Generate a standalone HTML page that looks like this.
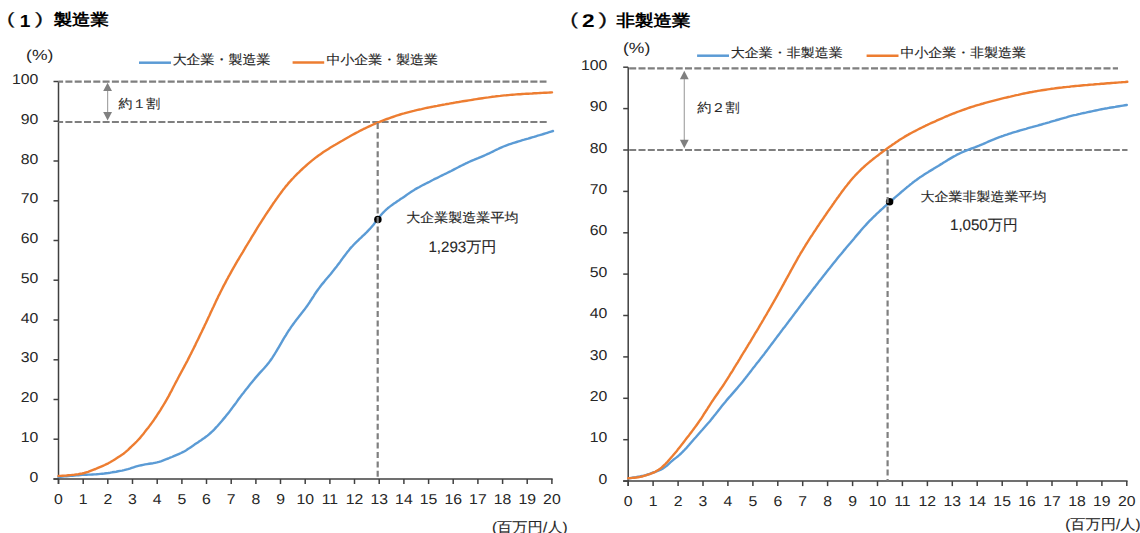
<!DOCTYPE html>
<html><head><meta charset="utf-8"><style>
html,body{margin:0;padding:0;background:#fff;width:1140px;height:533px;overflow:hidden}
svg{display:block}
text.n{stroke:#262626;stroke-width:0.12px}
</style></head><body>
<svg width="1140" height="533" viewBox="0 0 1140 533" text-rendering="geometricPrecision">
<text class="n" transform="translate(7.06,24.17) scale(1.3649,1)" font-size="16.34" font-weight="normal" fill="#111" font-family="Liberation Sans, sans-serif">(</text>
<text transform="translate(19.85,26.60) scale(1.0920,1)" font-size="17.54" font-weight="bold" fill="#000" font-family="Liberation Sans, sans-serif">1</text>
<text class="n" transform="translate(35.06,24.17) scale(1.4825,1)" font-size="16.34" font-weight="normal" fill="#111" font-family="Liberation Sans, sans-serif">)</text>
<text transform="translate(53.70,25.34) scale(1.1385,1)" font-size="16.12" font-weight="bold" fill="#000" font-family="Liberation Sans, sans-serif">製造業</text>
<text class="n" transform="translate(570.29,24.71) scale(1.3723,1)" font-size="17.10" font-weight="normal" fill="#111" font-family="Liberation Sans, sans-serif">(</text>
<text transform="translate(582.02,27.10) scale(1.2292,1)" font-size="18.43" font-weight="bold" fill="#000" font-family="Liberation Sans, sans-serif">2</text>
<text class="n" transform="translate(598.44,24.71) scale(1.5298,1)" font-size="17.10" font-weight="normal" fill="#111" font-family="Liberation Sans, sans-serif">)</text>
<text transform="translate(616.50,26.03) scale(1.1413,1)" font-size="16.22" font-weight="bold" fill="#000" font-family="Liberation Sans, sans-serif">非製造業</text>
<text transform="translate(26.05,59.63) scale(1.2003,1)" font-size="14.62" font-weight="normal" fill="#262626" font-family="Liberation Sans, sans-serif">(%)</text>
<text transform="translate(622.95,52.56) scale(1.1744,1)" font-size="14.95" font-weight="normal" fill="#262626" font-family="Liberation Sans, sans-serif">(%)</text>
<text class="n" transform="translate(172.64,64.22) scale(1.0598,1)" font-size="13.19" font-weight="normal" fill="#262626" font-family="Liberation Sans, sans-serif">大企業・製造業</text>
<text class="n" transform="translate(326.46,64.32) scale(1.0778,1)" font-size="12.95" font-weight="normal" fill="#262626" font-family="Liberation Sans, sans-serif">中小企業・製造業</text>
<text class="n" transform="translate(730.84,57.17) scale(1.0963,1)" font-size="12.77" font-weight="normal" fill="#262626" font-family="Liberation Sans, sans-serif">大企業・非製造業</text>
<text class="n" transform="translate(900.46,57.02) scale(1.0782,1)" font-size="12.95" font-weight="normal" fill="#262626" font-family="Liberation Sans, sans-serif">中小企業・非製造業</text>
<text class="n" transform="translate(118.56,107.81) scale(1.0893,1)" font-size="12.78" font-weight="normal" fill="#262626" font-family="Liberation Sans, sans-serif">約１割</text>
<text class="n" transform="translate(697.26,112.08) scale(1.0851,1)" font-size="12.99" font-weight="normal" fill="#262626" font-family="Liberation Sans, sans-serif">約２割</text>
<text class="n" transform="translate(406.24,221.88) scale(1.0586,1)" font-size="13.26" font-weight="normal" fill="#262626" font-family="Liberation Sans, sans-serif">大企業製造業平均</text>
<text class="n" transform="translate(428.39,251.55) scale(1.0000,1)" font-size="15.13" font-weight="normal" fill="#262626" font-family="Liberation Sans, sans-serif">1,293万円</text>
<text class="n" transform="translate(920.54,201.02) scale(1.0806,1)" font-size="12.95" font-weight="normal" fill="#262626" font-family="Liberation Sans, sans-serif">大企業非製造業平均</text>
<text class="n" transform="translate(949.99,229.63) scale(1.0000,1)" font-size="15.10" font-weight="normal" fill="#262626" font-family="Liberation Sans, sans-serif">1,050万円</text>
<text class="n" transform="translate(491.98,531.52) scale(1.0768,1)" font-size="14.20" font-weight="normal" fill="#262626" font-family="Liberation Sans, sans-serif">(百万円/人)</text>
<text class="n" transform="translate(1065.29,528.52) scale(1.0724,1)" font-size="14.20" font-weight="normal" fill="#262626" font-family="Liberation Sans, sans-serif">(百万円/人)</text>
<line x1="139" y1="62.7" x2="171" y2="62.7" stroke="#5b9bd5" stroke-width="2.5"/>
<line x1="292.6" y1="62.5" x2="324.2" y2="62.5" stroke="#ed7d31" stroke-width="2.5"/>
<line x1="697.1" y1="55.7" x2="729" y2="55.7" stroke="#5b9bd5" stroke-width="2.5"/>
<line x1="866.6" y1="55.8" x2="898.5" y2="55.8" stroke="#ed7d31" stroke-width="2.5"/>
<line x1="58.5" y1="81.5" x2="58.5" y2="484.0" stroke="#404040" stroke-width="1.5"/>
<line x1="53.5" y1="479.0" x2="552.6500000000001" y2="479.0" stroke="#404040" stroke-width="1.5"/>
<line x1="53.5" y1="479.0" x2="58.5" y2="479.0" stroke="#404040" stroke-width="1.5"/>
<text transform="translate(38.30,481.60) scale(1.1,1)" text-anchor="end" font-size="14.37" fill="#262626" font-family="Liberation Sans, sans-serif">0</text>
<line x1="53.5" y1="439.2" x2="58.5" y2="439.2" stroke="#404040" stroke-width="1.5"/>
<text transform="translate(38.30,441.85) scale(1.1,1)" text-anchor="end" font-size="14.37" fill="#262626" font-family="Liberation Sans, sans-serif">10</text>
<line x1="53.5" y1="399.5" x2="58.5" y2="399.5" stroke="#404040" stroke-width="1.5"/>
<text transform="translate(38.30,402.10) scale(1.1,1)" text-anchor="end" font-size="14.37" fill="#262626" font-family="Liberation Sans, sans-serif">20</text>
<line x1="53.5" y1="359.8" x2="58.5" y2="359.8" stroke="#404040" stroke-width="1.5"/>
<text transform="translate(38.30,362.35) scale(1.1,1)" text-anchor="end" font-size="14.37" fill="#262626" font-family="Liberation Sans, sans-serif">30</text>
<line x1="53.5" y1="320.0" x2="58.5" y2="320.0" stroke="#404040" stroke-width="1.5"/>
<text transform="translate(38.30,322.60) scale(1.1,1)" text-anchor="end" font-size="14.37" fill="#262626" font-family="Liberation Sans, sans-serif">40</text>
<line x1="53.5" y1="280.2" x2="58.5" y2="280.2" stroke="#404040" stroke-width="1.5"/>
<text transform="translate(38.30,282.85) scale(1.1,1)" text-anchor="end" font-size="14.37" fill="#262626" font-family="Liberation Sans, sans-serif">50</text>
<line x1="53.5" y1="240.5" x2="58.5" y2="240.5" stroke="#404040" stroke-width="1.5"/>
<text transform="translate(38.30,243.10) scale(1.1,1)" text-anchor="end" font-size="14.37" fill="#262626" font-family="Liberation Sans, sans-serif">60</text>
<line x1="53.5" y1="200.8" x2="58.5" y2="200.8" stroke="#404040" stroke-width="1.5"/>
<text transform="translate(38.30,203.35) scale(1.1,1)" text-anchor="end" font-size="14.37" fill="#262626" font-family="Liberation Sans, sans-serif">70</text>
<line x1="53.5" y1="161.0" x2="58.5" y2="161.0" stroke="#404040" stroke-width="1.5"/>
<text transform="translate(38.30,163.60) scale(1.1,1)" text-anchor="end" font-size="14.37" fill="#262626" font-family="Liberation Sans, sans-serif">80</text>
<line x1="53.5" y1="121.2" x2="58.5" y2="121.2" stroke="#404040" stroke-width="1.5"/>
<text transform="translate(38.30,123.85) scale(1.1,1)" text-anchor="end" font-size="14.37" fill="#262626" font-family="Liberation Sans, sans-serif">90</text>
<line x1="53.5" y1="81.5" x2="58.5" y2="81.5" stroke="#404040" stroke-width="1.5"/>
<text transform="translate(38.30,84.10) scale(1.1,1)" text-anchor="end" font-size="14.37" fill="#262626" font-family="Liberation Sans, sans-serif">100</text>
<line x1="58.5" y1="479.0" x2="58.5" y2="484.0" stroke="#404040" stroke-width="1.5"/>
<text transform="translate(58.50,503.90) scale(1.1,1)" text-anchor="middle" font-size="14.37" fill="#262626" font-family="Liberation Sans, sans-serif">0</text>
<line x1="83.2" y1="479.0" x2="83.2" y2="484.0" stroke="#404040" stroke-width="1.5"/>
<text transform="translate(83.17,503.90) scale(1.1,1)" text-anchor="middle" font-size="14.37" fill="#262626" font-family="Liberation Sans, sans-serif">1</text>
<line x1="107.8" y1="479.0" x2="107.8" y2="484.0" stroke="#404040" stroke-width="1.5"/>
<text transform="translate(107.84,503.90) scale(1.1,1)" text-anchor="middle" font-size="14.37" fill="#262626" font-family="Liberation Sans, sans-serif">2</text>
<line x1="132.5" y1="479.0" x2="132.5" y2="484.0" stroke="#404040" stroke-width="1.5"/>
<text transform="translate(132.51,503.90) scale(1.1,1)" text-anchor="middle" font-size="14.37" fill="#262626" font-family="Liberation Sans, sans-serif">3</text>
<line x1="157.2" y1="479.0" x2="157.2" y2="484.0" stroke="#404040" stroke-width="1.5"/>
<text transform="translate(157.18,503.90) scale(1.1,1)" text-anchor="middle" font-size="14.37" fill="#262626" font-family="Liberation Sans, sans-serif">4</text>
<line x1="181.9" y1="479.0" x2="181.9" y2="484.0" stroke="#404040" stroke-width="1.5"/>
<text transform="translate(181.85,503.90) scale(1.1,1)" text-anchor="middle" font-size="14.37" fill="#262626" font-family="Liberation Sans, sans-serif">5</text>
<line x1="206.5" y1="479.0" x2="206.5" y2="484.0" stroke="#404040" stroke-width="1.5"/>
<text transform="translate(206.52,503.90) scale(1.1,1)" text-anchor="middle" font-size="14.37" fill="#262626" font-family="Liberation Sans, sans-serif">6</text>
<line x1="231.2" y1="479.0" x2="231.2" y2="484.0" stroke="#404040" stroke-width="1.5"/>
<text transform="translate(231.19,503.90) scale(1.1,1)" text-anchor="middle" font-size="14.37" fill="#262626" font-family="Liberation Sans, sans-serif">7</text>
<line x1="255.9" y1="479.0" x2="255.9" y2="484.0" stroke="#404040" stroke-width="1.5"/>
<text transform="translate(255.86,503.90) scale(1.1,1)" text-anchor="middle" font-size="14.37" fill="#262626" font-family="Liberation Sans, sans-serif">8</text>
<line x1="280.5" y1="479.0" x2="280.5" y2="484.0" stroke="#404040" stroke-width="1.5"/>
<text transform="translate(280.53,503.90) scale(1.1,1)" text-anchor="middle" font-size="14.37" fill="#262626" font-family="Liberation Sans, sans-serif">9</text>
<line x1="305.2" y1="479.0" x2="305.2" y2="484.0" stroke="#404040" stroke-width="1.5"/>
<text transform="translate(305.20,503.90) scale(1.1,1)" text-anchor="middle" font-size="14.37" fill="#262626" font-family="Liberation Sans, sans-serif">10</text>
<line x1="329.9" y1="479.0" x2="329.9" y2="484.0" stroke="#404040" stroke-width="1.5"/>
<text transform="translate(329.87,503.90) scale(1.1,1)" text-anchor="middle" font-size="14.37" fill="#262626" font-family="Liberation Sans, sans-serif">11</text>
<line x1="354.5" y1="479.0" x2="354.5" y2="484.0" stroke="#404040" stroke-width="1.5"/>
<text transform="translate(354.54,503.90) scale(1.1,1)" text-anchor="middle" font-size="14.37" fill="#262626" font-family="Liberation Sans, sans-serif">12</text>
<line x1="379.2" y1="479.0" x2="379.2" y2="484.0" stroke="#404040" stroke-width="1.5"/>
<text transform="translate(379.21,503.90) scale(1.1,1)" text-anchor="middle" font-size="14.37" fill="#262626" font-family="Liberation Sans, sans-serif">13</text>
<line x1="403.9" y1="479.0" x2="403.9" y2="484.0" stroke="#404040" stroke-width="1.5"/>
<text transform="translate(403.88,503.90) scale(1.1,1)" text-anchor="middle" font-size="14.37" fill="#262626" font-family="Liberation Sans, sans-serif">14</text>
<line x1="428.6" y1="479.0" x2="428.6" y2="484.0" stroke="#404040" stroke-width="1.5"/>
<text transform="translate(428.55,503.90) scale(1.1,1)" text-anchor="middle" font-size="14.37" fill="#262626" font-family="Liberation Sans, sans-serif">15</text>
<line x1="453.2" y1="479.0" x2="453.2" y2="484.0" stroke="#404040" stroke-width="1.5"/>
<text transform="translate(453.22,503.90) scale(1.1,1)" text-anchor="middle" font-size="14.37" fill="#262626" font-family="Liberation Sans, sans-serif">16</text>
<line x1="477.9" y1="479.0" x2="477.9" y2="484.0" stroke="#404040" stroke-width="1.5"/>
<text transform="translate(477.89,503.90) scale(1.1,1)" text-anchor="middle" font-size="14.37" fill="#262626" font-family="Liberation Sans, sans-serif">17</text>
<line x1="502.6" y1="479.0" x2="502.6" y2="484.0" stroke="#404040" stroke-width="1.5"/>
<text transform="translate(502.56,503.90) scale(1.1,1)" text-anchor="middle" font-size="14.37" fill="#262626" font-family="Liberation Sans, sans-serif">18</text>
<line x1="527.2" y1="479.0" x2="527.2" y2="484.0" stroke="#404040" stroke-width="1.5"/>
<text transform="translate(527.23,503.90) scale(1.1,1)" text-anchor="middle" font-size="14.37" fill="#262626" font-family="Liberation Sans, sans-serif">19</text>
<line x1="551.9" y1="479.0" x2="551.9" y2="484.0" stroke="#404040" stroke-width="1.5"/>
<text transform="translate(551.90,503.90) scale(1.1,1)" text-anchor="middle" font-size="14.37" fill="#262626" font-family="Liberation Sans, sans-serif">20</text>
<line x1="58.5" y1="81.7" x2="546.5" y2="81.7" stroke="#7f7f7f" stroke-width="2.2" stroke-dasharray="7 2.3" stroke-dashoffset="2.4"/>
<line x1="58.5" y1="122.0" x2="547" y2="122.0" stroke="#7f7f7f" stroke-width="2.2" stroke-dasharray="7 2.3" stroke-dashoffset="2.4"/>
<line x1="107.6" y1="89.7" x2="107.6" y2="113.4" stroke="#a6a6a6" stroke-width="1.2"/>
<polygon points="107.6,82.7 103.19999999999999,91.10000000000001 112.0,91.10000000000001" fill="#808080"/>
<polygon points="107.6,120.4 103.19999999999999,112.0 112.0,112.0" fill="#808080"/>
<polyline points="58.5,477.0 60.5,476.8 62.5,476.6 64.5,476.4 66.5,476.3 68.5,476.1 70.4,475.9 72.4,475.7 74.4,475.5 76.4,475.3 78.4,475.2 80.4,475.0 82.4,474.8 84.4,474.7 86.4,474.7 88.4,474.6 90.4,474.6 92.4,474.5 94.4,474.4 96.4,474.3 98.4,474.1 100.4,473.9 102.3,473.7 104.3,473.5 106.3,473.2 108.3,473.0 110.3,472.7 112.2,472.3 114.2,472.0 116.2,471.7 118.2,471.3 120.1,470.9 122.1,470.6 124.0,470.2 126.0,469.7 127.9,469.2 129.8,468.6 131.7,467.9 133.6,467.3 135.5,466.7 137.4,466.1 139.3,465.6 141.3,465.2 143.2,464.8 145.2,464.4 147.2,464.1 149.1,463.8 151.1,463.5 153.1,463.2 155.0,462.8 157.0,462.4 158.9,461.9 160.8,461.3 162.7,460.6 164.5,459.9 166.4,459.2 168.3,458.5 170.1,457.7 171.9,457.0 173.8,456.2 175.6,455.4 177.4,454.6 179.2,453.8 181.0,453.0 182.8,452.1 184.6,451.2 186.3,450.2 187.9,449.1 189.6,448.0 191.2,446.9 192.9,445.8 194.5,444.6 196.1,443.5 197.8,442.4 199.4,441.3 201.1,440.2 202.7,439.1 204.3,438.0 205.9,436.8 207.5,435.6 209.0,434.3 210.5,433.0 212.0,431.7 213.4,430.3 214.8,428.9 216.1,427.4 217.5,426.0 218.8,424.5 220.1,423.0 221.4,421.5 222.7,419.9 224.0,418.4 225.3,416.9 226.5,415.3 227.8,413.7 229.0,412.2 230.2,410.6 231.4,409.0 232.6,407.4 233.8,405.8 235.0,404.2 236.2,402.6 237.4,400.9 238.5,399.3 239.7,397.7 240.9,396.1 242.1,394.5 243.4,393.0 244.6,391.4 245.8,389.8 247.1,388.3 248.3,386.7 249.6,385.1 250.8,383.6 252.1,382.0 253.3,380.5 254.6,378.9 255.9,377.4 257.2,375.9 258.5,374.4 259.8,372.9 261.2,371.4 262.5,370.0 263.9,368.5 265.2,367.0 266.5,365.5 267.7,364.0 269.0,362.4 270.2,360.8 271.3,359.2 272.4,357.6 273.5,355.9 274.6,354.2 275.6,352.5 276.6,350.8 277.6,349.1 278.7,347.3 279.7,345.6 280.7,343.9 281.7,342.2 282.7,340.4 283.7,338.7 284.7,337.0 285.8,335.3 286.8,333.6 287.9,331.9 289.0,330.2 290.1,328.6 291.2,326.9 292.4,325.3 293.5,323.7 294.7,322.1 295.9,320.5 297.1,318.9 298.4,317.3 299.6,315.7 300.8,314.2 302.1,312.6 303.3,311.0 304.5,309.5 305.7,307.9 306.9,306.3 308.0,304.6 309.2,303.0 310.2,301.3 311.3,299.7 312.4,298.0 313.5,296.3 314.5,294.6 315.6,293.0 316.8,291.3 317.9,289.7 319.1,288.1 320.3,286.5 321.5,284.9 322.8,283.4 324.1,281.9 325.3,280.3 326.6,278.8 327.9,277.3 329.2,275.7 330.5,274.2 331.7,272.7 333.0,271.1 334.2,269.5 335.4,268.0 336.7,266.4 337.9,264.8 339.1,263.2 340.3,261.6 341.4,260.0 342.6,258.4 343.8,256.8 345.0,255.2 346.2,253.6 347.4,252.0 348.7,250.5 349.9,248.9 351.2,247.4 352.6,246.0 353.9,244.5 355.3,243.1 356.8,241.7 358.2,240.3 359.6,238.9 361.1,237.6 362.5,236.2 364.0,234.8 365.4,233.5 366.8,232.1 368.2,230.6 369.6,229.2 370.9,227.7 372.2,226.2 373.5,224.7 374.7,223.1 375.9,221.6 377.1,220.0 378.4,218.4 379.6,216.9 380.8,215.3 382.1,213.8 383.4,212.4 384.8,211.0 386.2,209.6 387.7,208.3 389.2,207.1 390.8,205.9 392.4,204.7 394.0,203.6 395.7,202.5 397.3,201.3 399.0,200.2 400.6,199.1 402.3,198.0 403.9,196.9 405.6,195.7 407.2,194.6 408.8,193.4 410.5,192.3 412.1,191.2 413.8,190.2 415.5,189.1 417.2,188.1 419.0,187.2 420.7,186.2 422.5,185.3 424.3,184.4 426.0,183.5 427.8,182.6 429.6,181.7 431.4,180.7 433.2,179.8 434.9,178.9 436.7,178.1 438.5,177.2 440.3,176.3 442.1,175.4 443.9,174.5 445.7,173.7 447.5,172.8 449.3,171.9 451.1,171.0 452.8,170.1 454.6,169.1 456.4,168.2 458.2,167.3 459.9,166.4 461.7,165.5 463.5,164.6 465.3,163.7 467.1,162.9 468.9,162.0 470.8,161.2 472.6,160.4 474.4,159.7 476.3,158.9 478.1,158.2 480.0,157.4 481.8,156.6 483.6,155.8 485.5,155.0 487.3,154.2 489.1,153.4 490.9,152.5 492.7,151.6 494.4,150.7 496.2,149.8 498.0,149.0 499.8,148.1 501.6,147.3 503.5,146.5 505.3,145.8 507.2,145.1 509.0,144.4 510.9,143.8 512.8,143.2 514.7,142.6 516.6,142.0 518.5,141.4 520.5,140.8 522.4,140.2 524.3,139.7 526.2,139.1 528.1,138.6 530.1,138.0 532.0,137.4 533.9,136.9 535.8,136.3 537.7,135.7 539.6,135.2 541.6,134.6 543.5,134.0 545.4,133.4 547.3,132.8 549.2,132.2 551.1,131.6 553.0,131.0" fill="none" stroke="#5b9bd5" stroke-width="2.4" stroke-linejoin="round" stroke-linecap="round"/>
<polyline points="58.5,476.0 60.5,475.9 62.5,475.7 64.5,475.6 66.5,475.5 68.5,475.3 70.5,475.1 72.5,474.9 74.4,474.7 76.4,474.4 78.4,474.2 80.4,473.8 82.3,473.5 84.3,473.0 86.2,472.4 88.1,471.8 89.9,471.1 91.8,470.4 93.7,469.7 95.6,469.0 97.4,468.2 99.2,467.4 101.1,466.6 102.9,465.8 104.7,465.0 106.5,464.1 108.3,463.3 110.1,462.3 111.8,461.3 113.5,460.3 115.2,459.2 116.9,458.1 118.5,457.0 120.2,455.9 121.9,454.8 123.5,453.7 125.1,452.4 126.6,451.1 128.1,449.8 129.5,448.4 131.0,447.0 132.4,445.6 133.8,444.3 135.3,442.9 136.7,441.5 138.1,440.0 139.4,438.6 140.7,437.1 142.0,435.5 143.3,434.0 144.5,432.4 145.7,430.8 146.9,429.3 148.2,427.7 149.4,426.1 150.6,424.5 151.8,422.9 153.0,421.3 154.1,419.6 155.2,418.0 156.4,416.3 157.4,414.7 158.5,413.0 159.6,411.3 160.7,409.6 161.7,407.9 162.8,406.2 163.8,404.5 164.8,402.8 165.8,401.1 166.8,399.4 167.8,397.6 168.8,395.9 169.7,394.1 170.6,392.3 171.6,390.6 172.5,388.8 173.4,387.0 174.3,385.3 175.2,383.5 176.2,381.7 177.1,380.0 178.0,378.2 178.9,376.5 179.9,374.7 180.8,373.0 181.8,371.2 182.7,369.5 183.7,367.7 184.6,365.9 185.5,364.2 186.5,362.4 187.4,360.7 188.3,358.9 189.2,357.1 190.1,355.3 191.0,353.6 191.9,351.8 192.8,350.0 193.7,348.2 194.6,346.4 195.5,344.6 196.3,342.8 197.2,341.0 198.1,339.2 199.0,337.4 199.8,335.6 200.7,333.8 201.6,332.0 202.4,330.2 203.3,328.4 204.2,326.6 205.0,324.8 205.9,323.0 206.7,321.2 207.6,319.4 208.4,317.5 209.3,315.7 210.1,313.9 210.9,312.1 211.8,310.3 212.6,308.5 213.5,306.7 214.3,304.9 215.2,303.0 216.0,301.2 216.9,299.4 217.8,297.6 218.6,295.8 219.5,294.1 220.4,292.3 221.3,290.5 222.2,288.7 223.1,286.9 224.0,285.1 225.0,283.4 225.9,281.6 226.8,279.8 227.8,278.1 228.7,276.3 229.7,274.6 230.7,272.8 231.6,271.1 232.6,269.3 233.6,267.6 234.6,265.9 235.6,264.1 236.6,262.4 237.6,260.7 238.7,259.0 239.7,257.2 240.7,255.5 241.7,253.8 242.8,252.1 243.8,250.4 244.8,248.7 245.8,246.9 246.9,245.2 247.9,243.5 248.9,241.8 250.0,240.1 251.0,238.4 252.0,236.7 253.1,235.0 254.1,233.3 255.2,231.5 256.2,229.8 257.2,228.1 258.3,226.4 259.4,224.7 260.4,223.1 261.5,221.4 262.6,219.7 263.7,218.0 264.7,216.3 265.8,214.6 266.9,213.0 268.0,211.3 269.2,209.7 270.3,208.0 271.4,206.3 272.5,204.7 273.6,203.0 274.8,201.4 275.9,199.8 277.1,198.1 278.2,196.5 279.4,194.9 280.6,193.3 281.7,191.7 282.9,190.1 284.2,188.5 285.4,186.9 286.7,185.4 287.9,183.9 289.2,182.4 290.6,180.9 291.9,179.4 293.3,178.0 294.6,176.5 296.0,175.1 297.4,173.7 298.9,172.3 300.3,170.9 301.8,169.5 303.2,168.2 304.7,166.8 306.2,165.5 307.7,164.2 309.2,162.9 310.7,161.6 312.2,160.4 313.8,159.1 315.3,157.9 316.9,156.7 318.5,155.5 320.1,154.4 321.8,153.2 323.4,152.1 325.1,151.0 326.7,150.0 328.4,148.9 330.1,147.8 331.8,146.8 333.5,145.8 335.3,144.8 337.0,143.8 338.7,142.7 340.4,141.7 342.2,140.7 343.9,139.7 345.6,138.7 347.4,137.7 349.1,136.8 350.8,135.8 352.6,134.8 354.3,133.9 356.1,132.9 357.9,132.0 359.6,131.0 361.4,130.1 363.2,129.2 365.0,128.4 366.8,127.5 368.6,126.6 370.4,125.8 372.2,125.0 374.0,124.2 375.9,123.4 377.7,122.6 379.6,121.9 381.4,121.1 383.3,120.4 385.1,119.7 387.0,119.0 388.9,118.3 390.8,117.6 392.6,117.0 394.5,116.3 396.4,115.7 398.3,115.1 400.2,114.5 402.1,113.9 404.1,113.4 406.0,112.8 407.9,112.3 409.8,111.8 411.8,111.3 413.7,110.9 415.7,110.4 417.6,109.9 419.5,109.5 421.5,109.1 423.5,108.6 425.4,108.2 427.4,107.8 429.3,107.4 431.3,107.0 433.2,106.6 435.2,106.2 437.2,105.9 439.1,105.5 441.1,105.1 443.1,104.7 445.0,104.4 447.0,104.0 449.0,103.7 450.9,103.3 452.9,103.0 454.9,102.6 456.8,102.3 458.8,102.0 460.8,101.6 462.8,101.3 464.7,101.0 466.7,100.7 468.7,100.4 470.7,100.1 472.6,99.8 474.6,99.4 476.6,99.1 478.6,98.8 480.5,98.5 482.5,98.2 484.5,97.9 486.5,97.6 488.4,97.4 490.4,97.1 492.4,96.8 494.4,96.6 496.4,96.3 498.3,96.1 500.3,95.9 502.3,95.6 504.3,95.4 506.3,95.3 508.3,95.1 510.3,94.9 512.3,94.7 514.3,94.6 516.2,94.4 518.2,94.3 520.2,94.2 522.2,94.0 524.2,93.9 526.2,93.8 528.2,93.7 530.2,93.6 532.2,93.5 534.2,93.3 536.2,93.2 538.2,93.1 540.1,93.0 542.1,92.9 544.1,92.8 546.1,92.7 548.1,92.6 550.0,92.5 552.0,92.4" fill="none" stroke="#ed7d31" stroke-width="2.4" stroke-linejoin="round" stroke-linecap="round"/>
<circle cx="377.9" cy="219.4" r="3.75" fill="#000"/>
<line x1="377.7" y1="123" x2="377.7" y2="479.0" stroke="#7f7f7f" stroke-width="2.2" stroke-dasharray="6 3.4"/>
<line x1="628.2" y1="67.19999999999999" x2="628.2" y2="486.1" stroke="#404040" stroke-width="1.5"/>
<line x1="623.2" y1="481.1" x2="1127.5500000000002" y2="481.1" stroke="#404040" stroke-width="1.5"/>
<line x1="623.2" y1="481.1" x2="628.2" y2="481.1" stroke="#404040" stroke-width="1.5"/>
<text transform="translate(607.40,483.70) scale(1.1,1)" text-anchor="end" font-size="14.37" fill="#262626" font-family="Liberation Sans, sans-serif">0</text>
<line x1="623.2" y1="439.7" x2="628.2" y2="439.7" stroke="#404040" stroke-width="1.5"/>
<text transform="translate(607.40,442.31) scale(1.1,1)" text-anchor="end" font-size="14.37" fill="#262626" font-family="Liberation Sans, sans-serif">10</text>
<line x1="623.2" y1="398.3" x2="628.2" y2="398.3" stroke="#404040" stroke-width="1.5"/>
<text transform="translate(607.40,400.92) scale(1.1,1)" text-anchor="end" font-size="14.37" fill="#262626" font-family="Liberation Sans, sans-serif">20</text>
<line x1="623.2" y1="356.9" x2="628.2" y2="356.9" stroke="#404040" stroke-width="1.5"/>
<text transform="translate(607.40,359.53) scale(1.1,1)" text-anchor="end" font-size="14.37" fill="#262626" font-family="Liberation Sans, sans-serif">30</text>
<line x1="623.2" y1="315.5" x2="628.2" y2="315.5" stroke="#404040" stroke-width="1.5"/>
<text transform="translate(607.40,318.14) scale(1.1,1)" text-anchor="end" font-size="14.37" fill="#262626" font-family="Liberation Sans, sans-serif">40</text>
<line x1="623.2" y1="274.1" x2="628.2" y2="274.1" stroke="#404040" stroke-width="1.5"/>
<text transform="translate(607.40,276.75) scale(1.1,1)" text-anchor="end" font-size="14.37" fill="#262626" font-family="Liberation Sans, sans-serif">50</text>
<line x1="623.2" y1="232.8" x2="628.2" y2="232.8" stroke="#404040" stroke-width="1.5"/>
<text transform="translate(607.40,235.36) scale(1.1,1)" text-anchor="end" font-size="14.37" fill="#262626" font-family="Liberation Sans, sans-serif">60</text>
<line x1="623.2" y1="191.4" x2="628.2" y2="191.4" stroke="#404040" stroke-width="1.5"/>
<text transform="translate(607.40,193.97) scale(1.1,1)" text-anchor="end" font-size="14.37" fill="#262626" font-family="Liberation Sans, sans-serif">70</text>
<line x1="623.2" y1="150.0" x2="628.2" y2="150.0" stroke="#404040" stroke-width="1.5"/>
<text transform="translate(607.40,152.58) scale(1.1,1)" text-anchor="end" font-size="14.37" fill="#262626" font-family="Liberation Sans, sans-serif">80</text>
<line x1="623.2" y1="108.6" x2="628.2" y2="108.6" stroke="#404040" stroke-width="1.5"/>
<text transform="translate(607.40,111.19) scale(1.1,1)" text-anchor="end" font-size="14.37" fill="#262626" font-family="Liberation Sans, sans-serif">90</text>
<line x1="623.2" y1="67.2" x2="628.2" y2="67.2" stroke="#404040" stroke-width="1.5"/>
<text transform="translate(607.40,69.80) scale(1.1,1)" text-anchor="end" font-size="14.37" fill="#262626" font-family="Liberation Sans, sans-serif">100</text>
<line x1="628.2" y1="481.1" x2="628.2" y2="486.1" stroke="#404040" stroke-width="1.5"/>
<text transform="translate(628.20,506.10) scale(1.1,1)" text-anchor="middle" font-size="14.37" fill="#262626" font-family="Liberation Sans, sans-serif">0</text>
<line x1="653.1" y1="481.1" x2="653.1" y2="486.1" stroke="#404040" stroke-width="1.5"/>
<text transform="translate(653.13,506.10) scale(1.1,1)" text-anchor="middle" font-size="14.37" fill="#262626" font-family="Liberation Sans, sans-serif">1</text>
<line x1="678.1" y1="481.1" x2="678.1" y2="486.1" stroke="#404040" stroke-width="1.5"/>
<text transform="translate(678.06,506.10) scale(1.1,1)" text-anchor="middle" font-size="14.37" fill="#262626" font-family="Liberation Sans, sans-serif">2</text>
<line x1="703.0" y1="481.1" x2="703.0" y2="486.1" stroke="#404040" stroke-width="1.5"/>
<text transform="translate(702.99,506.10) scale(1.1,1)" text-anchor="middle" font-size="14.37" fill="#262626" font-family="Liberation Sans, sans-serif">3</text>
<line x1="727.9" y1="481.1" x2="727.9" y2="486.1" stroke="#404040" stroke-width="1.5"/>
<text transform="translate(727.92,506.10) scale(1.1,1)" text-anchor="middle" font-size="14.37" fill="#262626" font-family="Liberation Sans, sans-serif">4</text>
<line x1="752.9" y1="481.1" x2="752.9" y2="486.1" stroke="#404040" stroke-width="1.5"/>
<text transform="translate(752.85,506.10) scale(1.1,1)" text-anchor="middle" font-size="14.37" fill="#262626" font-family="Liberation Sans, sans-serif">5</text>
<line x1="777.8" y1="481.1" x2="777.8" y2="486.1" stroke="#404040" stroke-width="1.5"/>
<text transform="translate(777.78,506.10) scale(1.1,1)" text-anchor="middle" font-size="14.37" fill="#262626" font-family="Liberation Sans, sans-serif">6</text>
<line x1="802.7" y1="481.1" x2="802.7" y2="486.1" stroke="#404040" stroke-width="1.5"/>
<text transform="translate(802.71,506.10) scale(1.1,1)" text-anchor="middle" font-size="14.37" fill="#262626" font-family="Liberation Sans, sans-serif">7</text>
<line x1="827.6" y1="481.1" x2="827.6" y2="486.1" stroke="#404040" stroke-width="1.5"/>
<text transform="translate(827.64,506.10) scale(1.1,1)" text-anchor="middle" font-size="14.37" fill="#262626" font-family="Liberation Sans, sans-serif">8</text>
<line x1="852.6" y1="481.1" x2="852.6" y2="486.1" stroke="#404040" stroke-width="1.5"/>
<text transform="translate(852.57,506.10) scale(1.1,1)" text-anchor="middle" font-size="14.37" fill="#262626" font-family="Liberation Sans, sans-serif">9</text>
<line x1="877.5" y1="481.1" x2="877.5" y2="486.1" stroke="#404040" stroke-width="1.5"/>
<text transform="translate(877.50,506.10) scale(1.1,1)" text-anchor="middle" font-size="14.37" fill="#262626" font-family="Liberation Sans, sans-serif">10</text>
<line x1="902.4" y1="481.1" x2="902.4" y2="486.1" stroke="#404040" stroke-width="1.5"/>
<text transform="translate(902.43,506.10) scale(1.1,1)" text-anchor="middle" font-size="14.37" fill="#262626" font-family="Liberation Sans, sans-serif">11</text>
<line x1="927.4" y1="481.1" x2="927.4" y2="486.1" stroke="#404040" stroke-width="1.5"/>
<text transform="translate(927.36,506.10) scale(1.1,1)" text-anchor="middle" font-size="14.37" fill="#262626" font-family="Liberation Sans, sans-serif">12</text>
<line x1="952.3" y1="481.1" x2="952.3" y2="486.1" stroke="#404040" stroke-width="1.5"/>
<text transform="translate(952.29,506.10) scale(1.1,1)" text-anchor="middle" font-size="14.37" fill="#262626" font-family="Liberation Sans, sans-serif">13</text>
<line x1="977.2" y1="481.1" x2="977.2" y2="486.1" stroke="#404040" stroke-width="1.5"/>
<text transform="translate(977.22,506.10) scale(1.1,1)" text-anchor="middle" font-size="14.37" fill="#262626" font-family="Liberation Sans, sans-serif">14</text>
<line x1="1002.2" y1="481.1" x2="1002.2" y2="486.1" stroke="#404040" stroke-width="1.5"/>
<text transform="translate(1002.15,506.10) scale(1.1,1)" text-anchor="middle" font-size="14.37" fill="#262626" font-family="Liberation Sans, sans-serif">15</text>
<line x1="1027.1" y1="481.1" x2="1027.1" y2="486.1" stroke="#404040" stroke-width="1.5"/>
<text transform="translate(1027.08,506.10) scale(1.1,1)" text-anchor="middle" font-size="14.37" fill="#262626" font-family="Liberation Sans, sans-serif">16</text>
<line x1="1052.0" y1="481.1" x2="1052.0" y2="486.1" stroke="#404040" stroke-width="1.5"/>
<text transform="translate(1052.01,506.10) scale(1.1,1)" text-anchor="middle" font-size="14.37" fill="#262626" font-family="Liberation Sans, sans-serif">17</text>
<line x1="1076.9" y1="481.1" x2="1076.9" y2="486.1" stroke="#404040" stroke-width="1.5"/>
<text transform="translate(1076.94,506.10) scale(1.1,1)" text-anchor="middle" font-size="14.37" fill="#262626" font-family="Liberation Sans, sans-serif">18</text>
<line x1="1101.9" y1="481.1" x2="1101.9" y2="486.1" stroke="#404040" stroke-width="1.5"/>
<text transform="translate(1101.87,506.10) scale(1.1,1)" text-anchor="middle" font-size="14.37" fill="#262626" font-family="Liberation Sans, sans-serif">19</text>
<line x1="1126.8" y1="481.1" x2="1126.8" y2="486.1" stroke="#404040" stroke-width="1.5"/>
<text transform="translate(1126.80,506.10) scale(1.1,1)" text-anchor="middle" font-size="14.37" fill="#262626" font-family="Liberation Sans, sans-serif">20</text>
<line x1="628.2" y1="68.3" x2="1118" y2="68.3" stroke="#7f7f7f" stroke-width="2.2" stroke-dasharray="7 2.3" stroke-dashoffset="-1.0"/>
<line x1="628.2" y1="150.0" x2="1127.5" y2="150.0" stroke="#7f7f7f" stroke-width="2.2" stroke-dasharray="7 2.3" stroke-dashoffset="-1.0"/>
<line x1="684.3" y1="77.8" x2="684.3" y2="141.2" stroke="#a6a6a6" stroke-width="1.2"/>
<polygon points="684.3,70.8 679.9,79.2 688.6999999999999,79.2" fill="#808080"/>
<polygon points="684.3,148.2 679.9,139.79999999999998 688.6999999999999,139.79999999999998" fill="#808080"/>
<polyline points="628.2,478.5 630.2,478.1 632.1,477.8 634.1,477.4 636.1,477.1 638.0,476.7 640.0,476.4 642.0,476.0 643.9,475.6 645.8,475.1 647.8,474.5 649.7,473.9 651.5,473.2 653.4,472.5 655.3,471.9 657.2,471.2 659.0,470.4 660.8,469.6 662.6,468.7 664.3,467.6 665.9,466.4 667.4,465.2 668.8,463.8 670.3,462.4 671.8,461.1 673.3,459.8 674.9,458.6 676.5,457.4 678.0,456.2 679.5,454.9 681.0,453.5 682.4,452.1 683.8,450.7 685.2,449.2 686.6,447.8 687.9,446.3 689.2,444.8 690.5,443.2 691.8,441.7 693.1,440.2 694.4,438.7 695.8,437.2 697.1,435.7 698.4,434.2 699.7,432.7 701.0,431.2 702.4,429.7 703.7,428.2 705.0,426.7 706.3,425.2 707.6,423.7 709.0,422.2 710.3,420.7 711.5,419.1 712.8,417.6 714.0,416.0 715.3,414.5 716.5,412.9 717.8,411.3 719.0,409.7 720.2,408.2 721.5,406.6 722.7,405.1 724.0,403.5 725.3,402.0 726.5,400.4 727.8,398.9 729.1,397.4 730.5,395.9 731.8,394.4 733.1,392.9 734.4,391.4 735.7,389.9 737.0,388.4 738.3,386.8 739.6,385.3 740.9,383.8 742.2,382.2 743.4,380.7 744.7,379.1 745.9,377.5 747.1,376.0 748.3,374.4 749.6,372.8 750.8,371.2 752.0,369.6 753.2,368.0 754.5,366.5 755.7,364.9 756.9,363.3 758.2,361.8 759.4,360.2 760.6,358.6 761.9,357.0 763.1,355.4 764.3,353.9 765.5,352.3 766.7,350.7 767.9,349.1 769.1,347.5 770.3,345.9 771.5,344.3 772.7,342.7 773.9,341.1 775.1,339.5 776.3,337.9 777.5,336.3 778.7,334.7 779.9,333.1 781.1,331.5 782.3,329.9 783.5,328.3 784.8,326.7 786.0,325.1 787.2,323.5 788.4,321.9 789.6,320.3 790.8,318.7 792.0,317.1 793.2,315.5 794.4,313.9 795.6,312.3 796.8,310.7 798.0,309.1 799.2,307.5 800.4,305.9 801.6,304.3 802.8,302.7 804.0,301.1 805.2,299.6 806.4,298.0 807.6,296.4 808.9,294.8 810.1,293.2 811.3,291.6 812.5,290.0 813.7,288.4 815.0,286.9 816.2,285.3 817.4,283.7 818.6,282.1 819.9,280.5 821.1,279.0 822.3,277.4 823.6,275.8 824.8,274.3 826.0,272.7 827.3,271.1 828.5,269.5 829.8,268.0 831.0,266.4 832.3,264.8 833.5,263.3 834.8,261.7 836.0,260.2 837.3,258.6 838.5,257.1 839.8,255.5 841.1,254.0 842.4,252.4 843.6,250.9 844.9,249.4 846.2,247.8 847.5,246.3 848.8,244.8 850.1,243.3 851.4,241.7 852.7,240.2 854.0,238.7 855.2,237.1 856.5,235.6 857.8,234.1 859.1,232.6 860.4,231.1 861.7,229.5 863.0,228.0 864.4,226.5 865.7,225.1 867.0,223.6 868.4,222.1 869.8,220.7 871.2,219.3 872.6,217.9 874.0,216.5 875.5,215.1 876.9,213.7 878.4,212.4 879.8,211.0 881.3,209.6 882.8,208.3 884.3,206.9 885.8,205.6 887.3,204.3 888.8,203.0 890.3,201.7 891.8,200.3 893.3,199.0 894.8,197.7 896.3,196.4 897.8,195.1 899.3,193.8 900.8,192.5 902.3,191.2 903.9,189.9 905.4,188.6 906.9,187.3 908.5,186.1 910.0,184.8 911.6,183.6 913.2,182.3 914.8,181.1 916.4,180.0 918.0,178.8 919.6,177.6 921.3,176.5 922.9,175.4 924.6,174.3 926.3,173.2 928.0,172.2 929.7,171.1 931.4,170.1 933.1,169.1 934.8,168.0 936.5,167.0 938.2,166.0 939.9,164.9 941.6,163.9 943.3,162.8 945.0,161.8 946.7,160.7 948.4,159.6 950.1,158.6 951.8,157.6 953.5,156.6 955.3,155.7 957.0,154.7 958.8,153.9 960.6,153.0 962.4,152.2 964.3,151.4 966.1,150.6 968.0,149.9 969.8,149.2 971.7,148.5 973.5,147.8 975.4,147.1 977.3,146.3 979.1,145.6 981.0,144.8 982.8,144.1 984.6,143.3 986.5,142.5 988.3,141.7 990.1,140.9 992.0,140.1 993.8,139.4 995.6,138.6 997.5,137.9 999.4,137.2 1001.2,136.5 1003.1,135.9 1005.0,135.2 1006.9,134.6 1008.8,133.9 1010.7,133.3 1012.6,132.7 1014.5,132.1 1016.4,131.6 1018.4,131.0 1020.3,130.4 1022.2,129.8 1024.1,129.3 1026.0,128.8 1028.0,128.2 1029.9,127.7 1031.8,127.2 1033.7,126.6 1035.7,126.1 1037.6,125.6 1039.5,125.0 1041.5,124.5 1043.4,123.9 1045.3,123.4 1047.2,122.8 1049.1,122.3 1051.1,121.7 1053.0,121.1 1054.9,120.6 1056.8,120.0 1058.7,119.5 1060.7,118.9 1062.6,118.3 1064.5,117.8 1066.4,117.3 1068.4,116.7 1070.3,116.2 1072.2,115.7 1074.2,115.2 1076.1,114.8 1078.0,114.3 1080.0,113.9 1081.9,113.4 1083.9,113.0 1085.8,112.6 1087.8,112.1 1089.8,111.7 1091.7,111.3 1093.7,110.9 1095.6,110.5 1097.6,110.1 1099.5,109.7 1101.5,109.3 1103.5,108.9 1105.4,108.5 1107.4,108.2 1109.3,107.8 1111.3,107.5 1113.3,107.2 1115.2,106.9 1117.2,106.5 1119.1,106.2 1121.1,105.9 1123.0,105.6 1124.9,105.3 1126.8,105.0" fill="none" stroke="#5b9bd5" stroke-width="2.4" stroke-linejoin="round" stroke-linecap="round"/>
<polyline points="628.2,478.3 630.2,478.1 632.2,477.9 634.2,477.7 636.2,477.5 638.1,477.3 640.1,476.9 642.0,476.5 643.9,475.9 645.9,475.3 647.8,474.7 649.7,474.1 651.5,473.4 653.4,472.6 655.2,471.8 656.9,470.8 658.6,469.8 660.2,468.6 661.8,467.4 663.3,466.0 664.7,464.7 666.1,463.2 667.5,461.8 668.8,460.3 670.1,458.8 671.4,457.3 672.7,455.8 674.0,454.2 675.3,452.7 676.6,451.2 677.8,449.6 679.1,448.0 680.3,446.5 681.5,444.9 682.8,443.3 684.0,441.7 685.2,440.1 686.4,438.5 687.6,437.0 688.9,435.4 690.1,433.8 691.3,432.2 692.5,430.6 693.7,429.0 694.9,427.4 696.1,425.8 697.2,424.2 698.4,422.5 699.5,420.9 700.7,419.2 701.8,417.6 702.9,415.9 703.9,414.2 705.0,412.5 706.1,410.8 707.2,409.2 708.2,407.5 709.3,405.8 710.4,404.1 711.5,402.4 712.6,400.8 713.7,399.1 714.8,397.5 716.0,395.8 717.1,394.2 718.3,392.5 719.4,390.9 720.5,389.3 721.7,387.6 722.8,386.0 723.9,384.3 725.0,382.6 726.1,380.9 727.1,379.3 728.2,377.6 729.3,375.9 730.3,374.2 731.4,372.5 732.5,370.8 733.5,369.1 734.5,367.4 735.6,365.7 736.6,364.0 737.7,362.3 738.7,360.6 739.8,358.9 740.8,357.1 741.8,355.4 742.9,353.7 743.9,352.0 745.0,350.3 746.0,348.6 747.1,346.9 748.1,345.2 749.1,343.5 750.2,341.8 751.2,340.1 752.2,338.4 753.3,336.6 754.3,334.9 755.3,333.2 756.4,331.5 757.4,329.8 758.4,328.1 759.4,326.3 760.4,324.6 761.5,322.9 762.5,321.2 763.5,319.5 764.5,317.7 765.5,316.0 766.5,314.3 767.5,312.5 768.5,310.8 769.5,309.1 770.5,307.4 771.5,305.6 772.5,303.9 773.5,302.2 774.5,300.4 775.5,298.7 776.5,296.9 777.5,295.2 778.4,293.4 779.4,291.7 780.4,289.9 781.3,288.2 782.3,286.4 783.3,284.7 784.2,282.9 785.2,281.2 786.1,279.4 787.1,277.7 788.1,275.9 789.0,274.2 790.0,272.4 790.9,270.6 791.9,268.9 792.9,267.1 793.8,265.4 794.8,263.6 795.8,261.9 796.8,260.2 797.7,258.4 798.7,256.7 799.7,255.0 800.7,253.2 801.8,251.5 802.8,249.8 803.8,248.1 804.9,246.4 805.9,244.7 807.0,243.0 808.0,241.3 809.1,239.6 810.2,237.9 811.3,236.2 812.4,234.6 813.5,232.9 814.6,231.2 815.7,229.6 816.8,227.9 817.9,226.2 819.0,224.6 820.1,222.9 821.2,221.3 822.4,219.6 823.5,218.0 824.6,216.3 825.8,214.7 826.9,213.0 828.0,211.4 829.2,209.7 830.3,208.1 831.5,206.5 832.6,204.8 833.8,203.2 834.9,201.5 836.1,199.9 837.2,198.3 838.4,196.7 839.6,195.0 840.8,193.4 841.9,191.8 843.1,190.2 844.3,188.6 845.5,187.0 846.8,185.5 848.0,183.9 849.3,182.4 850.5,180.8 851.8,179.3 853.1,177.8 854.5,176.3 855.8,174.8 857.2,173.4 858.6,172.0 860.0,170.6 861.4,169.2 862.8,167.8 864.3,166.5 865.8,165.2 867.3,163.9 868.8,162.6 870.4,161.3 871.9,160.1 873.5,158.8 875.0,157.6 876.6,156.4 878.2,155.2 879.8,153.9 881.4,152.7 883.0,151.6 884.6,150.4 886.2,149.2 887.8,148.0 889.5,146.8 891.1,145.7 892.7,144.5 894.4,143.4 896.0,142.3 897.7,141.2 899.3,140.1 901.0,139.0 902.7,138.0 904.4,136.9 906.1,135.9 907.9,134.9 909.6,133.9 911.3,133.0 913.1,132.0 914.9,131.1 916.6,130.2 918.4,129.3 920.2,128.4 922.0,127.5 923.8,126.6 925.6,125.7 927.4,124.9 929.2,124.0 931.0,123.2 932.8,122.4 934.7,121.6 936.5,120.7 938.3,119.9 940.1,119.1 942.0,118.3 943.8,117.5 945.6,116.7 947.5,116.0 949.3,115.2 951.2,114.4 953.0,113.7 954.9,113.0 956.8,112.2 958.6,111.5 960.5,110.8 962.4,110.1 964.2,109.5 966.1,108.8 968.0,108.1 969.9,107.5 971.8,106.9 973.7,106.3 975.6,105.7 977.5,105.1 979.5,104.6 981.4,104.0 983.3,103.5 985.2,102.9 987.2,102.4 989.1,101.9 991.0,101.4 993.0,100.9 994.9,100.4 996.8,99.9 998.8,99.4 1000.7,98.9 1002.6,98.4 1004.6,97.9 1006.5,97.5 1008.5,97.0 1010.4,96.6 1012.4,96.1 1014.3,95.7 1016.3,95.2 1018.2,94.8 1020.2,94.3 1022.1,93.9 1024.1,93.5 1026.0,93.1 1028.0,92.7 1030.0,92.3 1031.9,92.0 1033.9,91.6 1035.9,91.3 1037.8,90.9 1039.8,90.6 1041.8,90.3 1043.7,90.0 1045.7,89.7 1047.7,89.4 1049.7,89.1 1051.7,88.8 1053.6,88.6 1055.6,88.3 1057.6,88.0 1059.6,87.8 1061.6,87.6 1063.6,87.3 1065.5,87.1 1067.5,86.9 1069.5,86.7 1071.5,86.4 1073.5,86.2 1075.5,86.0 1077.5,85.9 1079.5,85.7 1081.5,85.5 1083.5,85.3 1085.4,85.1 1087.4,85.0 1089.4,84.8 1091.4,84.6 1093.4,84.5 1095.4,84.3 1097.4,84.1 1099.4,84.0 1101.4,83.8 1103.4,83.7 1105.4,83.5 1107.4,83.3 1109.4,83.2 1111.4,83.0 1113.3,82.9 1115.3,82.7 1117.3,82.6 1119.3,82.4 1121.3,82.3 1123.3,82.1 1125.3,82.0 1127.3,81.8" fill="none" stroke="#ed7d31" stroke-width="2.4" stroke-linejoin="round" stroke-linecap="round"/>
<circle cx="889.6" cy="201.75" r="3.75" fill="#000"/>
<line x1="887.6" y1="150" x2="887.6" y2="481.1" stroke="#7f7f7f" stroke-width="2.2" stroke-dasharray="6 3.4"/>
</svg>
</body></html>
